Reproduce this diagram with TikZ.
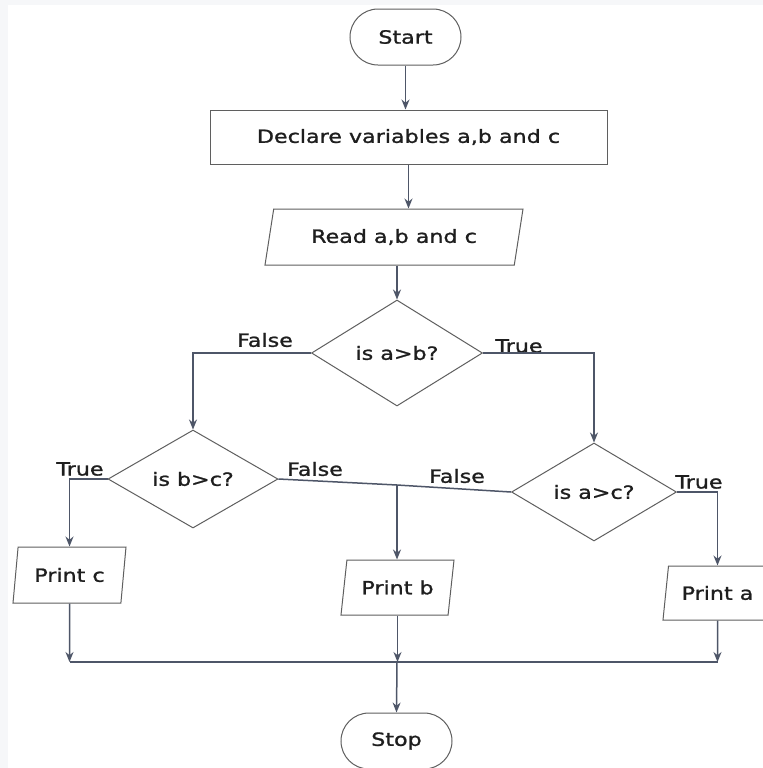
\documentclass[tikz,border=0pt]{standalone}
\usepackage{fontspec}
\setmainfont[FakeStretch=1.22,FakeBold=1.2]{DejaVu Sans}
\usetikzlibrary{arrows.meta,shapes.geometric}
\definecolor{flowline}{RGB}{78,86,104}
\definecolor{flowedge}{RGB}{95,95,95}
\definecolor{flowtext}{RGB}{30,30,30}
\definecolor{paper}{RGB}{246,247,249}

\begin{document}
\begin{tikzpicture}[x=0.5pt,y=-0.5pt,>={Stealth[length=5pt,width=4pt]},
                    line width=0.75pt,
                    every node/.style={font=\fontsize{9.1}{11}\selectfont,text=flowtext},
                    box/.style={draw=flowedge,line width=0.5pt,fill=white,inner sep=2pt},
                    term node/.style={box,rectangle,rounded corners=14pt,minimum width=55.5pt,minimum height=28pt},
                    proc node/.style={box,rectangle,minimum width=198.5pt,minimum height=27pt},
                    io node/.style={box,trapezium,trapezium stretches body},
                    dec node/.style={box,diamond,inner sep=0pt},
                    flow/.style={draw=flowline},
                    tag/.style={inner sep=0pt}]
  \useasboundingbox (0,0) rectangle (763,768);
  \fill[paper] (0,0) rectangle (763,768);
  \fill[white] (8,5) rectangle (763,768);

  \node[term node] (start) at (405.5,37) {Start};
  \node[proc node] (decl) at (408.5,137) {Declare variables a,b and c};
  \node[io node,trapezium left angle=70,trapezium right angle=110,
        minimum width=129pt,minimum height=28pt] (read) at (394,237) {Read a,b and c};
  \node[dec node,minimum width=85.5pt,minimum height=53pt] (ab) at (397,353) {is a>b?};
  \node[dec node,minimum width=85pt,minimum height=49pt] (bc) at (193,479) {is b>c?};
  \node[dec node,minimum width=82.5pt,minimum height=49pt] (ac) at (594,492) {is a>c?};
  \node[io node,trapezium left angle=77,trapezium right angle=103,
        minimum width=56.5pt,minimum height=28pt] (pc) at (69.5,575) {Print c};
  \node[io node,trapezium left angle=75,trapezium right angle=105,
        minimum width=56.5pt,minimum height=27.5pt] (pb) at (397.5,587.5) {Print b};
  \node[io node,trapezium left angle=76,trapezium right angle=104,
        minimum width=54.5pt,minimum height=27pt] (pa) at (717.5,593) {Print a};
  \node[term node] (stop) at (396.5,741) {Stop};

  % branch labels
  \node[tag] (fab) at (265,340) {False};
  \node[tag] (tab) at (519,346) {True};
  \node[tag] (tbc) at (80,469) {True};
  \node[tag] (fbc) at (315,469) {False};
  \node[tag] (fac) at (457,476) {False};
  \node[tag] (tac) at (699,482) {True};

  \coordinate (jb) at (397,485);
  \coordinate (mc) at (69.5,662);
  \coordinate (mb) at (397,662);
  \coordinate (ma) at (717.5,662);

  \draw[flow,->] (start.south) -- (start.south |- decl.north);
  \draw[flow,->] (decl.south) -- (decl.south |- read.north);
  \draw[flow,->] (ab.north |- read.south) -- (ab.north);
  \draw[flow,->] (ab.west) -| (bc.north);
  \draw[flow,->] (ab.east) -| (ac.north);
  \draw[flow,->] (bc.west) -| (pc.north);
  \draw[flow,->] (ac.east) -| (pa.north);
  \draw[flow] (bc.east) -- (jb) -- (ac.west);
  \draw[flow,->] (jb) -- (jb |- pb.north);
  \draw[flow,->] (pc.south) -- (mc);
  \draw[flow,->] (pb.south) -- (pb.south |- mb);
  \draw[flow,->] (pa.south) -- (ma);
  \draw[flow] (mc) -- (ma);
  \draw[flow,->] (mb) -- (stop.north);
\end{tikzpicture}
\end{document}
